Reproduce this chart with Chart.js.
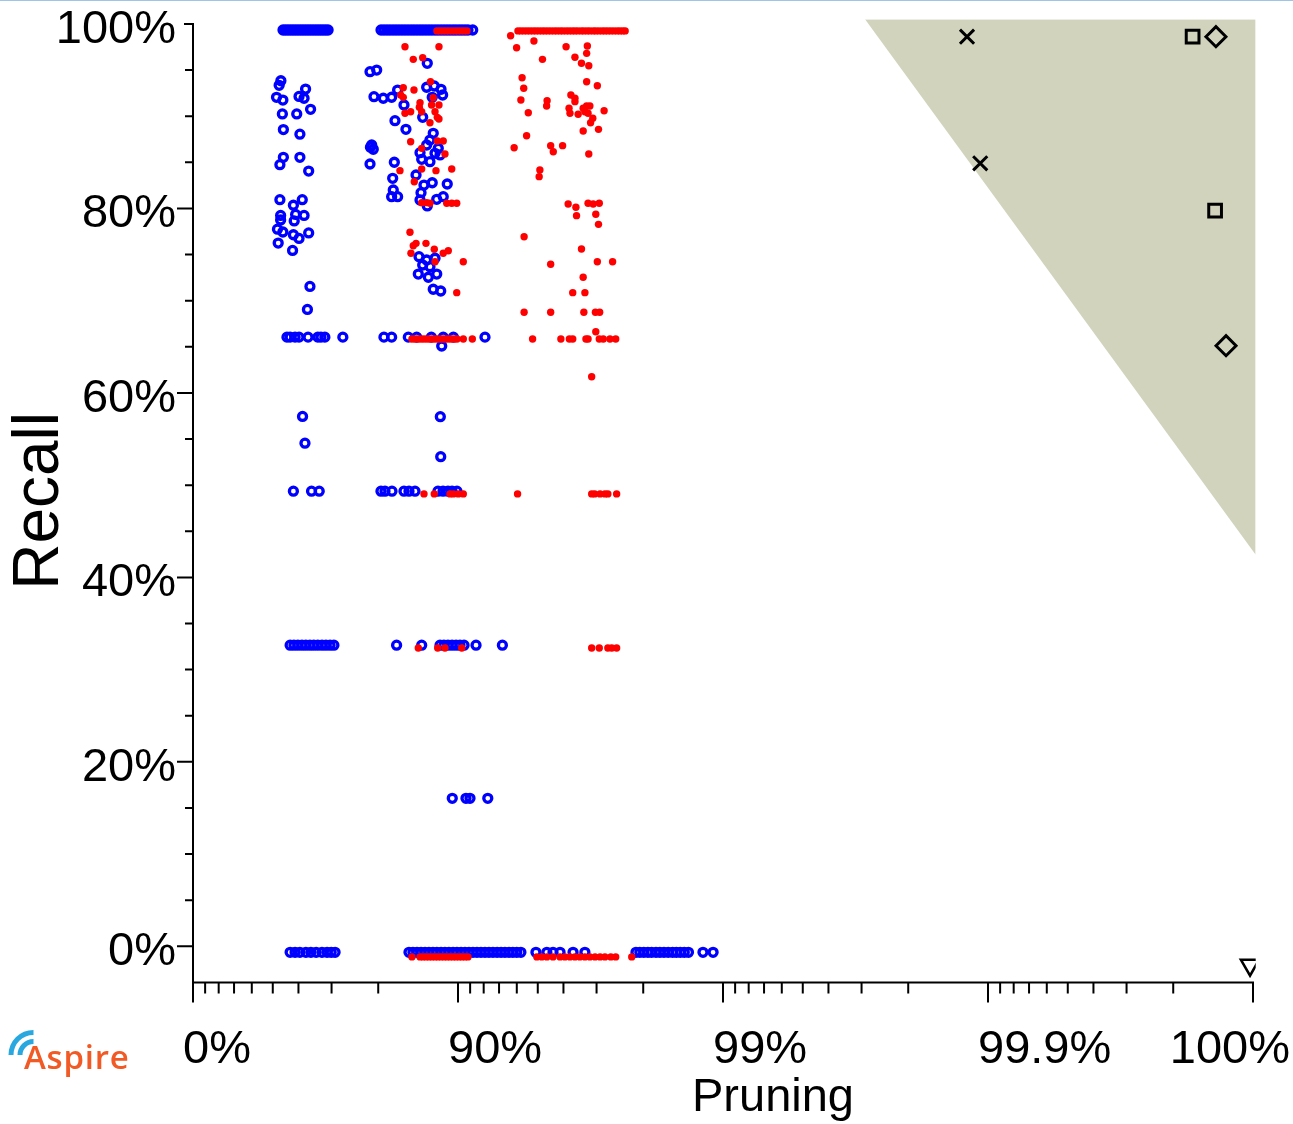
<!DOCTYPE html>
<html>
<head>
<meta charset="utf-8">
<title>Recall vs Pruning</title>
<script src="https://cdn.jsdelivr.net/npm/chart.js@4.4.1/dist/chart.umd.min.js"></script>
<style>
  html, body { margin: 0; padding: 0; background: #fff; }
  #wrap { position: relative; width: 1293px; height: 1124px; overflow: hidden; }
  #topRule { position: absolute; left: 0; top: 0; width: 1293px; height: 1px; background: #9fc5e6; }
  #logo { position: absolute; left: 0; top: 1020px; }
  canvas { display: block; }
</style>
</head>
<body>
<div id="wrap">
  <canvas id="chart" width="1293" height="1124"></canvas>
  <div id="topRule"></div>
  <svg id="logo" width="160" height="80" viewBox="0 0 160 80">
    <path d="M 11 35 A 22.5 22.5 0 0 1 33.5 12.5" fill="none" stroke="#29a8e0" stroke-width="5"/>
    <path d="M 20 35 A 13.5 13.5 0 0 1 33.5 21.5" fill="none" stroke="#29a8e0" stroke-width="5"/>
    <text x="24" y="49" font-family="Open Sans, sans-serif" font-weight="600" font-size="33" fill="#f15a24" letter-spacing="0.8">Aspire</text>
  </svg>
</div>
<script>
// ---------------- data: pruning (%) vs recall (%) ----------------

// Axis ticks (pruning axis is drawn in "nines": 90 %, 99 %, 99.9 %, ...)
const xMajorTicks = [0, 90, 99, 99.9, 99.99];
const xTickLabels = ['0%', '90%', '99%', '99.9%', '100%'];
const xMinorTicks = [10, 20, 30, 40, 50, 60, 70, 80,
  91, 92, 93, 94, 95, 96, 97, 98,
  99.1, 99.2, 99.3, 99.4, 99.5, 99.6, 99.7, 99.8,
  99.91, 99.92, 99.93, 99.94, 99.95, 99.96, 99.97, 99.98];
const yMajorTicks = [0, 20, 40, 60, 80, 100];
const yMinorTicks = [5, 10, 15, 25, 30, 35, 45, 50, 55, 65, 70, 75, 85, 90, 95];

// Blue configurations: pruning values of runs sharing a recall level
const blueFullRecall = [54.26, 55.24, 56.20, 57.15, 58.07, 58.97, 59.85, 60.72, 61.56, 62.39, 63.20, 63.99,
  64.77, 65.53, 66.27, 66.99, 67.70, 68.40, 69.08,
  80.48, 80.98, 81.47, 81.94, 82.41, 82.86, 83.30, 83.73, 84.15, 84.56, 84.96, 85.34, 85.72, 86.09,
  86.44, 86.79, 87.13, 87.46, 87.79, 88.10, 88.41, 88.71, 89.00, 89.28, 89.56, 89.82, 90.09, 90.34,
  90.59, 90.83, 91.20];
const blueTwoThirdsRecall = [55.8, 57.0, 58.8, 60.2, 63.2, 66.2, 67.1, 68.2, 72.8,
  80.97, 82.20, 84.60, 85.68, 87.39, 88.63, 89.59, 92.09];
const blueHalfRecall = [58.2, 64.3, 66.6,
  80.47, 81.14, 82.25, 84.01, 84.69, 85.47, 88.10, 88.61, 89.09, 89.47, 89.91];
const blueThirdRecall = [57.0, 58.4, 59.8, 61.2, 62.5, 63.8, 65.0, 66.2, 67.4, 68.5, 69.6, 70.6,
  82.95, 86.29, 88.31, 88.70, 89.09, 89.47, 89.83, 90.17, 90.51, 91.45, 93.20];
const blueSixthRecall = [89.49, 90.67, 90.99, 92.28];
const blueZeroRecall = [57.0, 58.8, 60.5, 62.5, 64.1, 65.7, 67.4, 68.8, 69.9, 70.9,
  84.69, 85.21, 85.72, 86.21, 86.68, 87.13, 87.57, 87.99, 88.41, 88.80, 89.18, 89.56, 89.91, 90.26,
  90.59, 90.91, 91.22, 91.52, 91.81, 92.09, 92.36, 92.62, 92.88, 93.12, 93.35, 93.58, 93.79, 94.00,
  94.21, 94.92, 95.38, 95.62, 95.88, 96.32, 96.68,
  97.87, 97.94, 98.01, 98.08, 98.14, 98.21, 98.27, 98.33, 98.39, 98.45, 98.50, 98.55, 98.60, 98.65,
  98.81, 98.91];
// Blue runs at other recall levels: [pruning, recall]
const blueOther = [
  [53.4, 94.5], [52.7, 94.0], [51.6, 92.7], [54.2, 92.4], [60.2, 92.8], [62.4, 93.6], [61.9, 92.6],
  [64.0, 91.4], [54.0, 90.9], [59.4, 90.9], [54.4, 89.2], [60.5, 88.7], [54.4, 86.2], [53.0, 85.4],
  [60.5, 86.2], [63.4, 84.7], [53.0, 81.6], [61.3, 81.6], [58.2, 81.0], [53.3, 79.9], [53.3, 79.4],
  [59.0, 80.0], [61.9, 79.9], [58.5, 79.3], [52.0, 78.4], [54.2, 78.1], [52.3, 76.9], [58.2, 77.8],
  [60.2, 77.4], [63.4, 78.0], [57.9, 76.1], [63.8, 72.2], [63.0, 69.7], [61.4, 58.1], [62.2, 55.2],
  [86.94, 96.39], [78.52, 95.48], [79.73, 95.66], [79.25, 92.77], [80.86, 92.60], [82.20, 92.71],
  [83.10, 93.49], [84.01, 91.87], [86.87, 93.79], [87.71, 93.93], [88.41, 93.57], [88.57, 92.95],
  [87.49, 92.70], [86.41, 90.53], [82.71, 90.17], [84.28, 89.23], [78.83, 87.53], [79.12, 87.07],
  [78.60, 87.30], [78.52, 85.47], [82.61, 85.66], [87.60, 88.80], [87.24, 88.07], [86.87, 87.53],
  [88.13, 87.17], [87.79, 86.63], [86.09, 86.70], [86.29, 85.98], [87.24, 85.72], [88.31, 86.45],
  [82.36, 83.92], [82.45, 82.65], [82.20, 81.93], [83.10, 81.93], [85.60, 84.28], [86.56, 83.19],
  [87.49, 83.44], [86.21, 82.36], [89.02, 83.30], [86.09, 81.57], [86.94, 80.92], [87.97, 81.64],
  [88.63, 81.93], [85.97, 75.42], [86.87, 75.06], [87.79, 75.25], [86.41, 74.52], [87.24, 74.34],
  [85.88, 73.54], [87.06, 73.19], [87.97, 73.54], [87.60, 71.89], [88.38, 71.70], [88.48, 65.74],
  [88.38, 53.74], [88.34, 58.07]
];

// Red configurations
const redFullRecall = [87.99, 88.31, 88.61, 88.90, 89.18, 89.47, 89.74, 90.00, 90.26, 90.51, 90.75,
  94.06, 94.21, 94.36, 94.51, 94.65, 94.79, 94.92, 95.05, 95.18, 95.30, 95.42, 95.54, 95.66, 95.77,
  95.88, 95.98, 96.09, 96.19, 96.29, 96.38, 96.47, 96.57, 96.65, 96.74, 96.82, 96.91, 96.98, 97.06,
  97.14, 97.21, 97.28, 97.35, 97.42, 97.49, 97.55, 97.61, 97.66];
const redTwoThirdsRecall = [85.08, 85.47, 85.84, 86.21, 86.56, 86.91, 87.24, 87.57, 87.89, 88.20,
  88.51, 88.80, 89.09, 89.37, 89.65, 89.91, 90.45, 91.17,
  94.77, 95.91, 96.20, 96.31, 96.71, 96.77, 97.07, 97.17, 97.33, 97.46];
const redHalfRecall = [86.56, 87.71, 89.28, 89.59, 90.03, 90.45,
  94.04, 96.87, 96.95, 97.09, 97.21, 97.28, 97.48];
const redThirdRecall = [85.88, 88.07, 88.80, 90.32, 96.87, 97.07, 97.28, 97.37, 97.48];
const redZeroRecall = [85.08, 86.09, 86.44, 86.79, 87.13, 87.46, 87.79, 88.10, 88.41, 88.71, 89.00,
  89.28, 89.56, 89.82, 90.09, 90.34, 90.59, 90.83,
  94.96, 95.17, 95.38, 95.62, 95.88, 96.05, 96.22, 96.38, 96.53, 96.68, 96.82, 96.96, 97.09, 97.21,
  97.35, 97.46, 97.79];
const redOther = [
  [84.15, 98.19], [88.20, 98.19], [85.25, 96.82], [86.41, 97.00], [87.30, 94.39], [83.91, 93.74],
  [85.34, 93.49], [83.54, 92.95], [83.91, 92.70], [87.60, 92.66], [87.42, 91.87], [88.20, 91.87],
  [86.09, 92.12], [86.01, 91.62], [86.29, 91.14], [84.15, 90.97], [84.91, 91.14], [87.79, 91.14],
  [88.03, 90.53], [88.20, 90.35], [87.24, 89.95], [84.91, 87.89], [88.03, 87.96], [88.63, 87.96],
  [86.29, 87.17], [88.80, 86.56], [89.44, 84.93], [83.44, 84.75], [86.29, 84.93], [87.89, 84.75],
  [85.38, 83.55], [86.29, 81.28], [86.87, 81.28], [87.24, 81.21], [88.97, 81.21], [89.44, 81.21],
  [89.89, 81.21], [84.82, 78.07], [85.60, 76.87], [86.79, 76.87], [85.25, 76.61], [84.95, 75.79],
  [87.71, 76.22], [88.63, 75.79], [89.12, 76.07], [87.79, 74.88], [90.45, 74.88], [89.89, 71.52],
  [93.67, 99.38], [93.99, 98.08], [94.83, 98.81], [96.09, 98.19], [96.75, 98.27], [96.73, 97.47],
  [95.20, 96.82], [96.38, 97.04], [96.58, 96.39], [96.79, 96.13], [94.27, 94.83], [94.35, 93.68],
  [96.73, 94.39], [97.02, 93.96], [94.21, 92.41], [95.39, 92.33], [95.37, 91.76], [96.25, 92.95],
  [96.38, 92.60], [96.38, 92.23], [94.57, 91.03], [96.19, 91.51], [96.22, 90.97], [96.48, 90.86],
  [96.63, 91.51], [96.73, 91.76], [96.82, 91.76], [96.68, 91.14], [96.77, 90.97], [97.19, 91.25],
  [96.90, 90.43], [96.84, 89.95], [96.63, 89.05], [97.05, 89.23], [94.49, 88.54], [93.86, 87.24],
  [95.53, 87.46], [95.63, 86.80], [95.97, 87.46], [96.79, 86.56], [95.09, 84.82], [95.06, 84.10],
  [96.16, 81.13], [96.41, 80.78], [96.43, 79.87], [96.77, 81.21], [96.91, 81.13], [97.07, 81.21],
  [96.98, 80.02], [97.05, 78.93], [94.37, 77.59], [96.58, 76.26], [95.53, 74.60], [97.02, 74.88],
  [97.39, 74.88], [96.63, 73.19], [96.31, 71.52], [96.68, 71.52], [94.37, 69.39], [95.53, 69.39],
  [96.65, 69.39], [96.97, 69.39], [97.08, 69.39], [96.98, 67.29], [96.87, 62.41]
];

// Reference methods near full pruning
const crossMarks = [[99.880, 99.27], [99.893, 85.55]];
const squareMarks = [[99.9831, 99.27], [99.9861, 80.41]];
const diamondMarks = [[99.9862, 99.27], [99.98736, 65.77]];
const triangleMarks = [[99.98974, -1.38]];

// Shaded target region: edge from top-left corner down to the right border
const regionEdge = [[99.7089, 101.16], [99.990232, 43.1]];

// Axis ranges
const pruningRange = [0, 99.990232];
const recallRange = [-3.274, 101.16];

// ---------------- helpers ----------------
const rowPoints = (pruning, recall) => pruning.map(p => ({x: p, y: recall}));
const pairPoints = pairs => pairs.map(([p, r]) => ({x: p, y: r}));
const toNines = p => -Math.log10(1 - p / 100);

// Pruning axis: linear in the number of nines, -log10(1 - p)
class PruningScale extends Chart.LinearScale {
  determineDataLimits() {
    this.min = this.options.min;
    this.max = this.options.max;
  }
  buildTicks() {
    return xMajorTicks.map(value => ({value}));
  }
  configure() {
    super.configure();
    this._nStart = toNines(this.min);
    this._nRange = toNines(this.max) - this._nStart;
  }
  getPixelForValue(value) {
    return this.getPixelForDecimal((toNines(value) - this._nStart) / this._nRange);
  }
  getValueForPixel(pixel) {
    const n = this._nStart + this.getDecimalForPixel(pixel) * this._nRange;
    return 100 * (1 - Math.pow(10, -n));
  }
}
PruningScale.id = 'pruning';
PruningScale.defaults = {};
Chart.register(PruningScale);

const FONT = '"Liberation Sans", Arial, sans-serif';
Chart.defaults.font.family = FONT;
Chart.defaults.color = '#000';

const Y_TICK_SHIFT = 6;

// Axis lines, tick marks of two lengths and pruning labels
const axisFrame = {
  id: 'axisFrame',
  afterDraw(chart) {
    const {ctx, chartArea} = chart;
    const xs = chart.scales.x, ys = chart.scales.y;
    const baseY = chartArea.bottom;
    const left = xs.getPixelForValue(xMajorTicks[0]);
    const right = xs.getPixelForValue(xMajorTicks[xMajorTicks.length - 1]);
    const top = ys.getPixelForValue(yMajorTicks[yMajorTicks.length - 1]) - Y_TICK_SHIFT;
    ctx.save();
    ctx.strokeStyle = '#000';
    ctx.lineWidth = 2;
    ctx.beginPath();
    ctx.moveTo(left, top - 1);
    ctx.lineTo(left, baseY + 1);
    ctx.moveTo(left - 1, baseY);
    ctx.lineTo(right + 1, baseY);
    yMinorTicks.forEach(v => {
      const py = ys.getPixelForValue(v) - Y_TICK_SHIFT;
      ctx.moveTo(left - 8, py);
      ctx.lineTo(left, py);
    });
    yMajorTicks.forEach((v, i) => {
      const py = ys.getPixelForValue(v) - Y_TICK_SHIFT;
      const len = i === yMajorTicks.length - 1 ? 9 : 16;
      ctx.moveTo(left - len, py);
      ctx.lineTo(left, py);
    });
    xMinorTicks.forEach(v => {
      const px = xs.getPixelForValue(v);
      ctx.moveTo(px, baseY);
      ctx.lineTo(px, baseY + 11);
    });
    xMajorTicks.forEach(v => {
      const px = xs.getPixelForValue(v);
      ctx.moveTo(px, baseY);
      ctx.lineTo(px, baseY + 20);
    });
    ctx.stroke();

    ctx.fillStyle = '#000';
    ctx.font = '47px ' + FONT;
    ctx.textBaseline = 'alphabetic';
    xMajorTicks.forEach((v, i) => {
      const last = i === xMajorTicks.length - 1;
      ctx.textAlign = last ? 'right' : 'left';
      const px = last ? chart.width - 3 : xs.getPixelForValue(v) - 10;
      ctx.fillText(xTickLabels[i], px, baseY + 80);
    });
    ctx.textAlign = 'center';
    ctx.fillText('Pruning', (left + right) / 2 + 50, baseY + 128.5);
    ctx.restore();
  }
};

const blueData = [
  ...rowPoints(blueFullRecall, 100),
  ...rowPoints(blueTwoThirdsRecall, 66.7),
  ...rowPoints(blueHalfRecall, 50),
  ...rowPoints(blueThirdRecall, 33.3),
  ...rowPoints(blueSixthRecall, 16.7),
  ...rowPoints(blueZeroRecall, 0),
  ...pairPoints(blueOther)
];
const redData = [
  ...rowPoints(redFullRecall, 99.9),
  ...rowPoints(redTwoThirdsRecall, 66.5),
  ...rowPoints(redHalfRecall, 49.7),
  ...rowPoints(redThirdRecall, 33.0),
  ...rowPoints(redZeroRecall, -0.5),
  ...pairPoints(redOther)
];

const blackMarker = (pairs, style, radius, extra) => Object.assign({
  data: pairPoints(pairs),
  pointStyle: style,
  pointRadius: radius,
  pointBorderWidth: 3,
  pointBorderColor: '#000',
  pointBackgroundColor: 'rgba(0,0,0,0)',
  order: 0
}, extra || {});

new Chart(document.getElementById('chart'), {
  type: 'scatter',
  data: {
    datasets: [
      blackMarker(crossMarks, 'crossRot', 10),
      blackMarker(squareMarks, 'rect', 9),
      blackMarker(diamondMarks, 'rectRot', 10),
      blackMarker(triangleMarks, 'triangle', 10.5, {pointRotation: 180, pointBorderWidth: 2.6}),
      {
        data: redData,
        pointStyle: 'circle',
        pointRadius: 3.7,
        pointBorderWidth: 0,
        pointBackgroundColor: '#ff0000',
        order: 1
      },
      {
        data: blueData,
        pointStyle: 'circle',
        pointRadius: 4,
        pointBorderWidth: 3.3,
        pointBorderColor: '#0000ff',
        pointBackgroundColor: 'rgba(0,0,0,0)',
        order: 2
      },
      {
        type: 'line',
        data: pairPoints(regionEdge),
        fill: 'end',
        backgroundColor: '#d1d3bd',
        borderWidth: 0,
        pointRadius: 0,
        tension: 0,
        order: 10
      }
    ]
  },
  options: {
    responsive: false,
    animation: false,
    events: [],
    devicePixelRatio: 1,
    layout: { padding: { left: 0, top: 19.3, right: 37.3, bottom: 141.5 } },
    plugins: { legend: { display: false }, tooltip: { enabled: false } },
    scales: {
      x: {
        type: 'pruning',
        min: pruningRange[0],
        max: pruningRange[1],
        display: false
      },
      y: {
        type: 'linear',
        min: recallRange[0],
        max: recallRange[1],
        afterBuildTicks: s => { s.ticks = yMajorTicks.map(value => ({value})); },
        afterFit: s => { s.width = 193; s.paddingTop = 0; s.paddingBottom = 0; },
        grid: { display: false, drawTicks: true, tickLength: 16 },
        border: { display: false },
        ticks: {
          color: '#000',
          font: { size: 47 },
          padding: 1,
          autoSkip: false,
          callback: v => v + '%'
        },
        title: {
          display: true,
          text: 'Recall',
          color: '#000',
          font: { size: 64 },
          padding: { top: 2, bottom: 0 }
        }
      }
    }
  },
  plugins: [axisFrame]
});
</script>
</body>
</html>
